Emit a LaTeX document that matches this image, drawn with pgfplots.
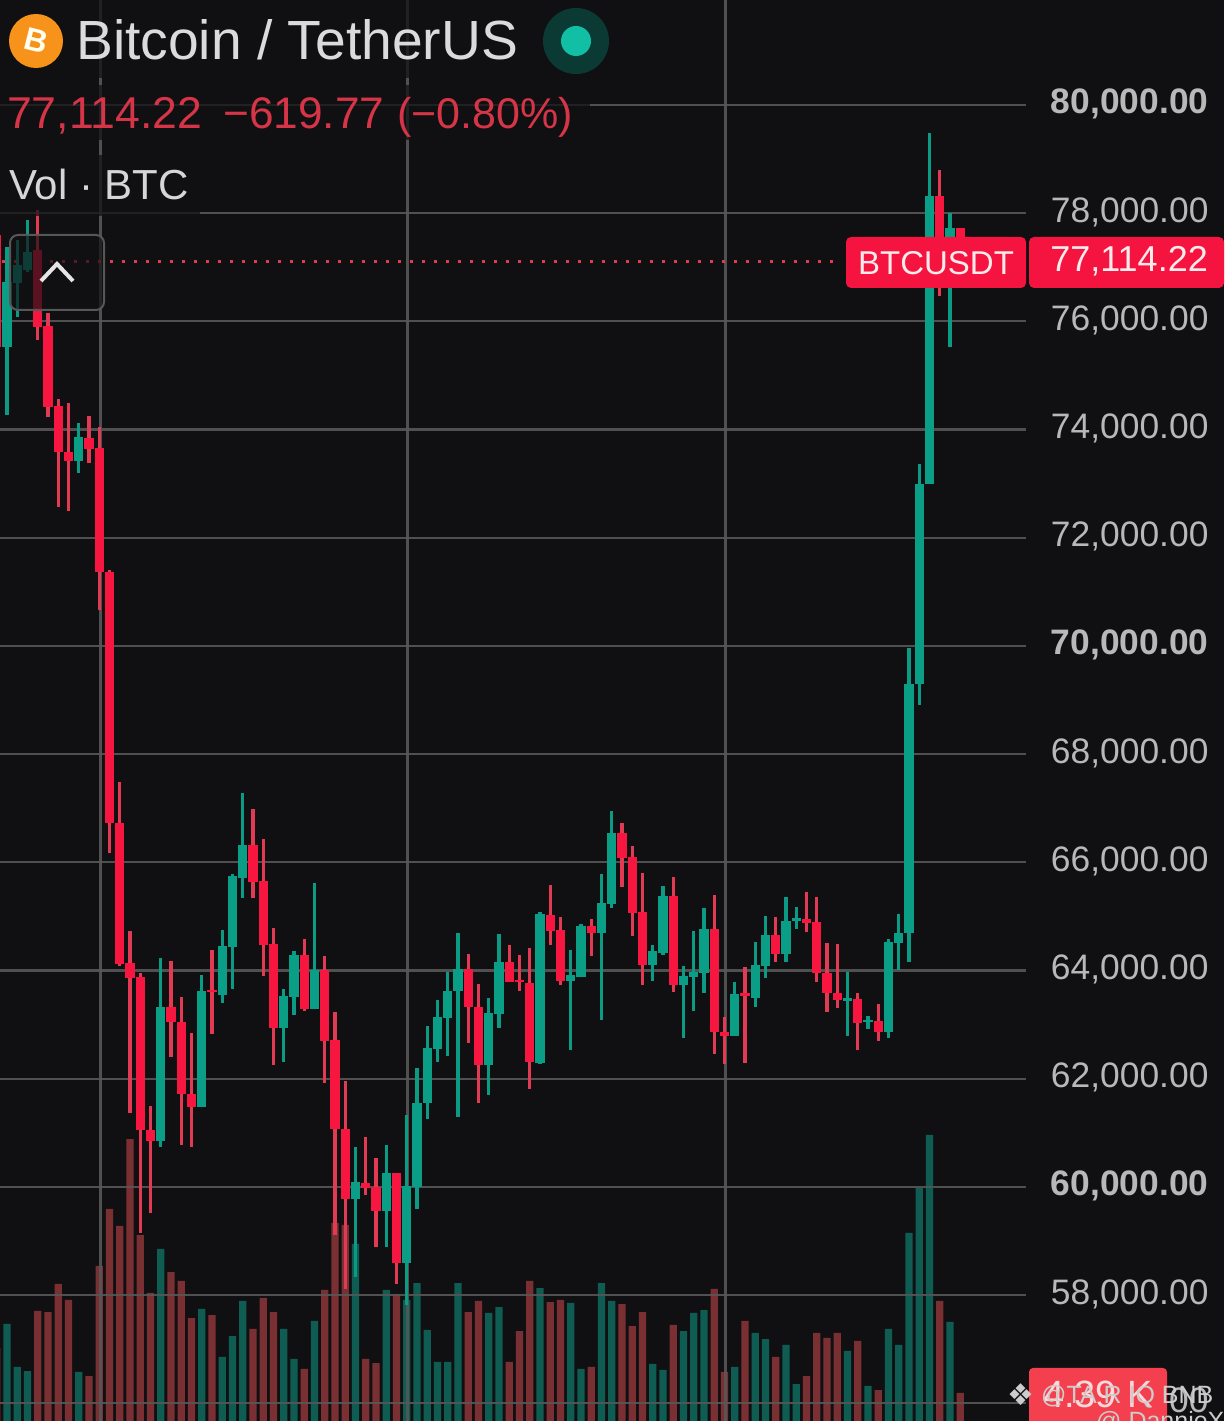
\documentclass[border=0pt]{standalone}
\usepackage{fontspec}
\setmainfont{Liberation Sans}
\newfontfamily\djv{DejaVu Sans}
\usepackage{pgfplots}
\usepackage{pgfplotstable}
\pgfplotsset{compat=1.18}
\definecolor{bg}{HTML}{101012}
\definecolor{upc}{HTML}{0A9E86}
\definecolor{upw}{HTML}{0B9A84}
\definecolor{dnc}{HTML}{F7163F}
\definecolor{dnw}{HTML}{E23A52}
\definecolor{upv}{HTML}{0E5C52}
\definecolor{dnv}{HTML}{7A2F33}
\definecolor{gridc}{HTML}{575757}
\definecolor{badge}{HTML}{F5143F}
\definecolor{ticktxt}{HTML}{B8B8B8}
\definecolor{btc}{HTML}{F7931A}
\definecolor{dotout}{HTML}{0B3A35}
\definecolor{dotin}{HTML}{11BFA5}
\definecolor{volbadge}{HTML}{F4404E}
\definecolor{redtxt}{HTML}{D63548}
\pgfplotstableread{
i o h l c v
-1 77600 77600 75530 75530 11.41
3 77320 78060 75660 75900 17.19
4 75910 76160 74230 74420 17.03
5 74440 74570 72570 73590 21.41
6 73590 74490 72500 73420 18.91
8 73840 74250 73380 73640 7.03
9 73660 74050 70660 71370 24.22
10 71370 71400 66170 66730 33.13
11 66730 67480 64080 64120 30.47
12 64140 64730 61370 63860 44.06
13 63880 63950 59150 61050 29.06
14 61050 61490 59520 60850 20.00
16 63330 64180 62400 63050 23.28
17 63050 63510 60770 61720 21.88
18 61720 62840 60740 61480 16.09
20 63640 64380 62830 63600 16.56
24 66320 66990 65340 65640 14.38
25 65650 66430 63900 64470 19.22
26 64490 64790 62250 62940 17.03
29 64290 64580 63250 63290 8.13
31 64010 64270 61920 62700 20.47
32 62710 63230 59110 61070 30.94
33 61070 61960 58110 59780 30.63
35 60070 60920 59850 59980 9.69
36 60000 60530 58890 59550 9.06
38 60260 60260 58200 58590 19.84
45 64030 64300 62660 63330 17.03
46 63330 63750 61550 62250 18.75
49 64160 64470 63790 63790 9.22
50 63820 64290 63620 63790 14.06
51 63770 64420 61810 62310 21.88
53 65030 65580 64470 64730 18.59
54 64750 64990 63730 63810 18.91
57 64820 64950 64270 64690 8.44
60 66540 66730 65540 66080 18.28
61 66100 66300 64640 65060 14.84
62 65080 65800 63730 64100 17.03
65 65380 65730 63600 63730 15.00
69 64770 65400 62460 62860 20.63
70 62860 63140 62270 62790 7.66
72 63580 64060 62290 63530 15.63
75 64660 64990 64160 64300 10.00
78 64950 65450 64710 64880 7.03
79 64900 65360 63790 63950 13.75
80 63950 64510 63230 63580 12.97
81 63580 64490 63310 63450 13.75
83 63470 63580 62530 63030 12.50
85 63070 63380 62700 62860 4.84
91 78320 78800 76470 77500 18.75
93 77730 77730 77114 77114.22 4.39
}\tabdown
\pgfplotstableread{
i o h l c v
0 75530 77380 74270 76730 15.16
1 76710 77500 76080 77040 8.44
2 76950 77870 76910 77280 7.81
7 73420 74120 73200 73860 7.66
15 60850 64230 60740 63330 26.88
19 61480 63920 61480 63620 17.50
21 63550 64750 63400 64450 10.00
22 64430 65780 63660 65750 13.28
23 65710 67280 65340 66320 18.75
27 62940 63660 62310 63530 14.38
28 63510 64360 63180 64290 9.69
30 63290 65620 63290 64010 15.63
34 59780 60740 58330 60090 27.66
37 59550 60770 58890 60260 20.47
39 58590 61330 57820 60020 18.91
40 60000 62200 59590 61550 21.56
41 61550 62970 61250 62570 14.22
42 62550 63450 62310 63140 9.22
43 63120 63970 62420 63620 9.22
44 63620 64690 61290 64030 21.56
47 62250 63490 61700 63210 16.88
48 63200 64670 62940 64160 17.81
52 62290 65080 62270 65040 20.78
55 63810 64380 62530 63920 18.44
56 63880 64860 63880 64820 8.13
58 64690 65780 63080 65250 21.56
59 65230 66950 65160 66540 18.75
63 64100 64470 63810 64360 8.91
64 64320 65560 64290 65380 7.97
66 63730 64080 62750 63900 14.06
67 63880 64730 63250 63970 16.88
68 63950 65160 63580 64770 17.34
71 62790 63790 62790 63570 8.44
73 63490 64530 63330 64100 13.75
74 64080 65010 63860 64660 12.81
76 64300 65360 64160 64910 11.88
77 64910 65170 64770 64970 5.78
82 63440 63970 62790 63490 10.94
84 63050 63160 62920 63080 5.47
86 62860 64580 62750 64530 14.38
87 64510 65040 64010 64690 11.88
88 64690 69960 64160 69300 29.38
89 69300 73360 68910 72990 36.41
90 72990 79480 72990 78320 44.69
92 77500 78000 75530 77730 15.47
}\tabup
\pgfplotsset{
  chartbase/.style={
    scale only axis, width=1224pt, height=1421pt, at={(0pt,0pt)}, anchor=south west,
    xmin=-0.683, xmax=118.732,
    axis line style={draw=none}, tick style={draw=none}, major tick length=0pt,
    xtick=\empty,
  },
  wick/.style={draw=none, mark=none, forget plot,
    error bars/.cd, y dir=plus, y explicit, error mark=none,
    error bar style={draw=#1, line width=3.2pt}},
  body/.style={draw=none, mark=none, forget plot,
    error bars/.cd, y dir=plus, y explicit, error mark=none,
    error bar style={draw=#1, line width=9.4pt}},
}
\begin{document}
\begin{tikzpicture}
\useasboundingbox (0,0) rectangle (1224pt,1421pt);
\fill[bg] (0,0) rectangle (1224pt,1421pt);
% volume pane
\begin{axis}[chartbase, ymin=0, ymax=222.03, ytick=\empty]
\addplot[ybar, bar shift=0pt, bar width=7.4pt, fill=dnv, draw=none, forget plot] table[x=i,y=v] {\tabdown};
\addplot[ybar, bar shift=0pt, bar width=7.4pt, fill=upv, draw=none, forget plot] table[x=i,y=v] {\tabup};
\end{axis}
% price pane
\begin{axis}[chartbase, ymin=55671, ymax=81941,
  ytick={56000,58000,60000,62000,64000,66000,68000,70000,72000,74000,76000,78000,80000},
  yticklabels={{56,000.00},{58,000.00},{\textbf{60,000.00}},{62,000.00},{64,000.00},{66,000.00},{68,000.00},{\textbf{70,000.00}},{72,000.00},{74,000.00},{76,000.00},{78,000.00},{\textbf{80,000.00}}},
  ytick pos=right, yticklabel pos=right,
  yticklabel style={font=\fontsize{35.4}{40}\selectfont, text=ticktxt, anchor=east, xshift=-12pt, yshift=1pt},
]
\addplot[gridc, line width=2.2pt, forget plot, opacity=0.9] coordinates {(9.12,55671) (9.12,81941)};
\addplot[gridc, line width=2.2pt, forget plot, opacity=0.9] coordinates {(39.07,55671) (39.07,81941)};
\addplot[gridc, line width=2.2pt, forget plot, opacity=0.9] coordinates {(70.1,55671) (70.1,81941)};
\pgfplotsinvokeforeach{56000,58000,60000,62000,64000,66000,68000,70000,72000,74000,76000,78000,80000}{
  \addplot[gridc, line width=2.2pt, forget plot, opacity=0.9] coordinates {(-1,#1) (99.4,#1)};
}
\addplot[dnw, line width=3pt, dash pattern=on 3pt off 9pt, forget plot] coordinates {(-0.5,77114.22) (81.3,77114.22)};
\addplot[wick=dnw] table[x=i,y=l,y error plus expr=\thisrow{h}-\thisrow{l}] {\tabdown};
\addplot[wick=upw] table[x=i,y=l,y error plus expr=\thisrow{h}-\thisrow{l}] {\tabup};
\addplot[body=dnc] table[x=i,y=c,y error plus expr=\thisrow{o}-\thisrow{c}] {\tabdown};
\addplot[body=upc] table[x=i,y=o,y error plus expr=\thisrow{c}-\thisrow{o}] {\tabup};
\end{axis}
% overlays, in reference pixels (y downward)
\begin{scope}[shift={(0,1421pt)},x=1pt,y=-1pt]
\fill[bg,opacity=0.72] (0,0) rectangle (620,78);
\fill[bg,opacity=0.72] (0,85) rectangle (590,140);
\fill[bg,opacity=0.72] (0,155) rectangle (200,216);
% collapse button
\fill[bg,opacity=0.68,rounded corners=8pt] (10,235) rectangle (104,310);
\draw[gridc,line width=2pt,rounded corners=8pt] (10,235) rectangle (104,310);
\draw[white!90!black,line width=4pt] (41,281) -- (57,264) -- (73,281);
% header
\fill[btc] (36,41) circle (27);
\node[rotate=-14,text=white!94!yellow,font=\fontsize{32}{36}\selectfont\bfseries] at (36,41) {B};
\fill[dotout] (576,41) circle (33);
\fill[dotin] (576,41) circle (15);
\node[anchor=base west,inner sep=0pt,text=white!86!black,font=\fontsize{55.2}{60}\selectfont] at (76,60) {Bitcoin / TetherUS};
\node[anchor=base west,inner sep=0pt,text=redtxt,font=\fontsize{44.6}{50}\selectfont] at (7,129) {77,114.22};
\node[anchor=base west,inner sep=0pt,text=redtxt,font=\fontsize{44.2}{50}\selectfont] at (223,129) {−619.77};
\node[anchor=base west,inner sep=0pt,text=redtxt,font=\fontsize{43}{50}\selectfont] at (397,129) {(−0.80\%)};
\node[anchor=base west,inner sep=0pt,text=white!84!black,font=\fontsize{42}{50}\selectfont] at (9,200) {Vol · BTC};
% price badges
\fill[badge,rounded corners=5pt] (846,237) rectangle (1026,288);
\fill[badge,rounded corners=5pt] (1029,237) rectangle (1224,288);
\node[anchor=base,inner sep=0pt,text=white!92!red,font=\fontsize{33}{40}\selectfont] at (936,275) {BTCUSDT};
\node[anchor=base east,inner sep=0pt,text=white!92!red,font=\fontsize{36}{40}\selectfont] at (1208,272) {77,114.22};
% volume badge
\fill[volbadge,rounded corners=4pt] (1029,1368) rectangle (1167,1430);
\node[anchor=base,inner sep=0pt,text=white!85!red,font=\fontsize{38}{44}\selectfont] at (1098,1408) {4.39 K};
% watermark
\node[anchor=base west,inner sep=0pt,text=white!80!black,font=\fontsize{25}{28}\selectfont] at (1041,1404) {@TA R IQ BNB};
\node[anchor=base,inner sep=0pt,text=white!80!black,font=\fontsize{30}{32}\djv] at (1021,1405) {❖};
\node[anchor=base west,inner sep=0pt,text=white!80!black,font=\fontsize{25}{28}\selectfont] at (1096,1430) {@ DannieX};
\end{scope}
\end{tikzpicture}
\end{document}
